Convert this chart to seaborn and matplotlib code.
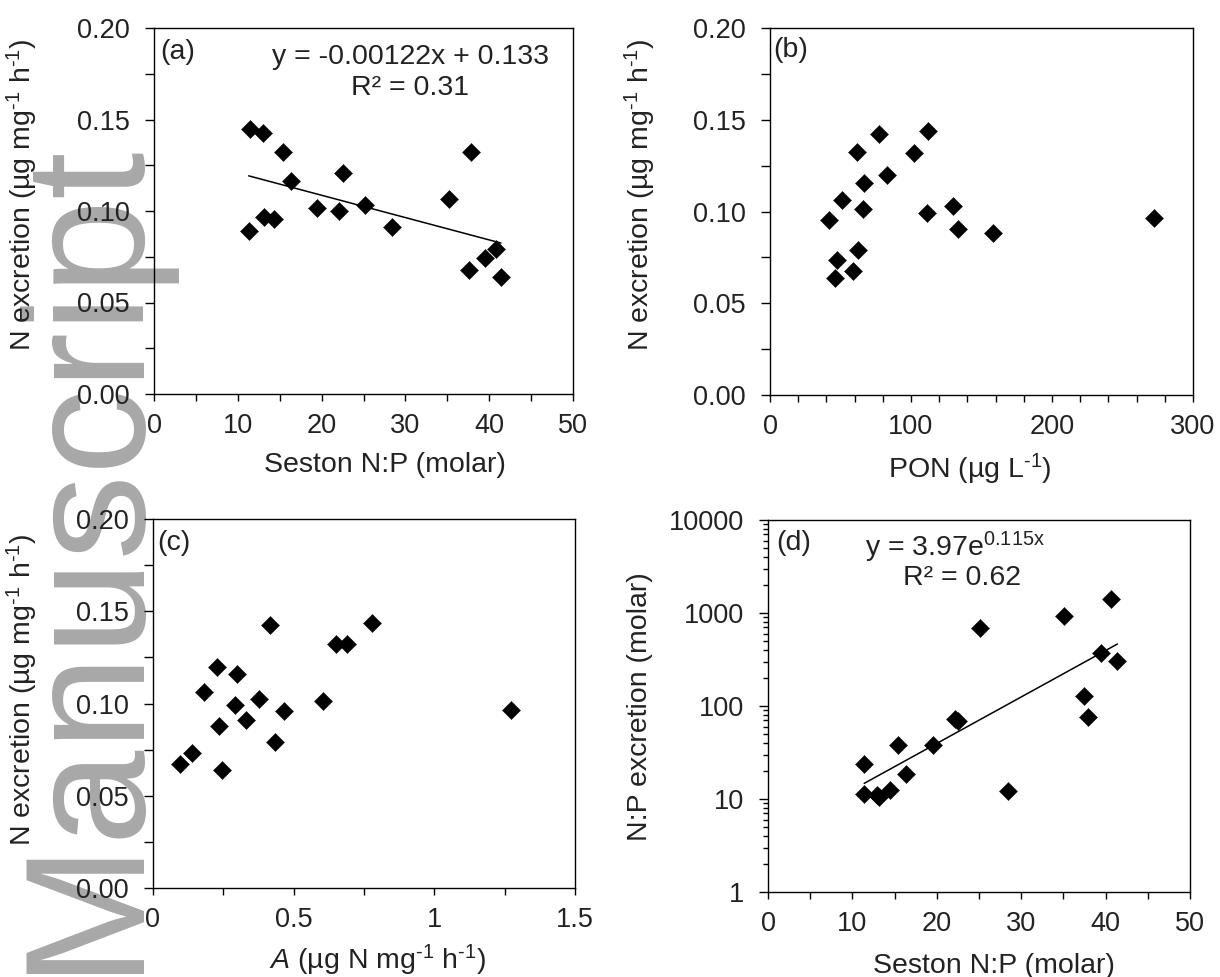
import numpy as np
import pandas as pd
import matplotlib
matplotlib.use("Agg")
import matplotlib.pyplot as plt
import matplotlib.ticker as mticker
import seaborn as sns

# ---------------- data ----------------
# (a) N excretion vs seston N:P
a_seston_np = [11.3, 11.4, 13.0, 13.1, 14.3, 15.4, 16.3, 19.4, 22.1, 22.5, 25.2, 28.4,
               35.2, 37.6, 37.8, 39.5, 40.8, 41.4]
a_n_excr = [0.0888, 0.1448, 0.1426, 0.0966, 0.0957, 0.1322, 0.1163, 0.1015, 0.1001,
            0.1205, 0.1034, 0.0912, 0.1068, 0.0678, 0.1325, 0.0742, 0.0795, 0.0642]
a_slope, a_intercept = -0.00122, 0.133

# (b) N excretion vs PON
b_pon = [41.8, 51.3, 61.9, 77.5, 66.7, 65.7, 83.2, 102.1, 112.3, 111.6, 129.6, 133.6,
         158.4, 272.6, 47.8, 62.6, 46.1, 59.1]
b_n_excr = [0.0955, 0.1064, 0.1323, 0.1423, 0.1155, 0.1015, 0.1200, 0.1320, 0.1441,
            0.0994, 0.1030, 0.0907, 0.0885, 0.0966, 0.0738, 0.0789, 0.0638, 0.0676]

# (c) N excretion vs A
c_a = [0.095, 0.140, 0.181, 0.229, 0.235, 0.246, 0.291, 0.300, 0.332, 0.376, 0.415,
       0.433, 0.465, 0.605, 0.650, 0.690, 0.779, 1.272]
c_n_excr = [0.0671, 0.0734, 0.1064, 0.1198, 0.0876, 0.0640, 0.0994, 0.1162, 0.0908,
            0.1026, 0.1423, 0.0789, 0.0957, 0.1015, 0.1320, 0.1320, 0.1438, 0.0966]

# (d) N:P excretion vs seston N:P
d_seston_np = [11.4, 11.4, 12.9, 13.1, 14.4, 15.4, 16.3, 19.5, 22.1, 22.5, 25.1, 28.4,
               35.1, 37.4, 37.9, 39.4, 40.6, 41.4]
d_np_excr = [24, 11.2, 11.0, 10.5, 12.4, 37.8, 18.4, 38.4, 73, 69, 690, 12.1, 935, 129,
             76, 372, 1400, 302]
d_coef, d_rate = 3.97, 0.115

y_ticks_n = [0.00, 0.05, 0.10, 0.15, 0.20]
d_y_ticks = [1, 10, 100, 1000, 10000]

# ---------------- style ----------------
sns.set_style("ticks")
FONT = "Liberation Sans"
plt.rcParams["font.family"] = [FONT, "DejaVu Sans"]
plt.rcParams["mathtext.fontset"] = "custom"
plt.rcParams["mathtext.rm"] = FONT
plt.rcParams["mathtext.it"] = FONT + ":italic"
plt.rcParams["mathtext.bf"] = FONT + ":bold"
plt.rcParams["axes.linewidth"] = 1.0
plt.rcParams["axes.edgecolor"] = "black"

TICK_FS = 19.5
LAB_FS = 20.5
TXT_COL = "#222222"

fig = plt.figure(figsize=(12.2, 9.77), dpi=100)
fig.patch.set_facecolor("white")

W, H = 1220, 977


def rect(l, r, t, b):
    return [l / W, 1 - b / H, (r - l) / W, (b - t) / H]


# watermark (beneath the axes content)
fig.text(131 / W, 1 - 973 / H, "Manuscript", rotation=90, rotation_mode="anchor",
         ha="left", va="baseline", fontsize=123, color="#a8a8a8", family=FONT, zorder=0)

ax_a = fig.add_axes(rect(154, 573, 28, 394))
ax_b = fig.add_axes(rect(770, 1193, 28, 395))
ax_c = fig.add_axes(rect(153, 575, 519, 888))
ax_d = fig.add_axes(rect(768, 1190, 520, 892))

for ax in (ax_a, ax_b, ax_c, ax_d):
    ax.set_facecolor("none")
    ax.set_zorder(1)
    for s in ax.spines.values():
        s.set_visible(True)
        s.set_color("black")
        s.set_linewidth(1.0)

MK = dict(marker="D", s=85, color="black", edgecolor="black", linewidth=0.3, legend=False)

# (a)
sns.scatterplot(x=a_seston_np, y=a_n_excr, ax=ax_a, zorder=3, **MK)
xa = np.linspace(min(a_seston_np), max(a_seston_np), 50)
sns.lineplot(x=xa, y=a_slope * xa + a_intercept, ax=ax_a, color="black", lw=1.1, zorder=2)

# (b)
sns.scatterplot(x=b_pon, y=b_n_excr, ax=ax_b, zorder=3, **MK)

# (c)
sns.scatterplot(x=c_a, y=c_n_excr, ax=ax_c, zorder=3, **MK)

# (d)
sns.scatterplot(x=d_seston_np, y=d_np_excr, ax=ax_d, zorder=3, **MK)
xd = np.linspace(min(d_seston_np), max(d_seston_np), 80)
sns.lineplot(x=xd, y=d_coef * np.exp(d_rate * xd), ax=ax_d, color="black", lw=1.1, zorder=2)
ax_d.set_yscale("log")

# ---------------- axes formatting ----------------
for ax in (ax_a, ax_b, ax_c):
    ax.set_ylim(0, 0.2)
    ax.yaxis.set_major_locator(mticker.FixedLocator(y_ticks_n))
    ax.yaxis.set_minor_locator(mticker.MultipleLocator(0.025))
    ax.yaxis.set_major_formatter(mticker.FormatStrFormatter("%.2f"))

ax_a.set_xlim(0, 50)
ax_a.xaxis.set_major_locator(mticker.MultipleLocator(10))
ax_a.xaxis.set_minor_locator(mticker.MultipleLocator(5))

ax_b.set_xlim(0, 300)
ax_b.xaxis.set_major_locator(mticker.MultipleLocator(100))
ax_b.xaxis.set_minor_locator(mticker.MultipleLocator(20))

ax_c.set_xlim(0, 1.5)
ax_c.xaxis.set_major_locator(mticker.MultipleLocator(0.5))
ax_c.xaxis.set_minor_locator(mticker.MultipleLocator(0.25))
ax_c.xaxis.set_major_formatter(mticker.FuncFormatter(lambda v, p: f"{v:g}"))

ax_d.set_xlim(0, 50)
ax_d.xaxis.set_major_locator(mticker.MultipleLocator(10))
ax_d.xaxis.set_minor_locator(mticker.MultipleLocator(5))
ax_d.set_ylim(1, 10000)
ax_d.yaxis.set_major_locator(mticker.FixedLocator(d_y_ticks))
ax_d.yaxis.set_minor_locator(mticker.LogLocator(base=10, subs=np.arange(2, 10)))
ax_d.yaxis.set_major_formatter(mticker.FuncFormatter(lambda v, p: f"{int(round(v))}"))
ax_d.yaxis.set_minor_formatter(mticker.NullFormatter())

for ax in (ax_a, ax_b, ax_c, ax_d):
    ax.tick_params(axis="both", which="both", direction="out", colors="black",
                   labelcolor=TXT_COL, labelsize=TICK_FS, width=1.0)
    ax.tick_params(axis="y", which="both", length=6.5, pad=11)
    ax.tick_params(axis="x", which="both", length=4.8, pad=9)
    ax.tick_params(top=False, right=False, which="both")
ax_d.tick_params(axis="y", which="minor", length=3.5)

SUP = "$^{\\text{-1}}$"
ylab_n = f"N excretion (µg mg{SUP} h{SUP})"
labels = [
    (ax_a, "Seston N:P (molar)", ylab_n, (0.551, -0.158), (-0.315, 0.544)),
    (ax_b, f"PON (µg L{SUP})", ylab_n, (0.473, -0.155), (-0.307, 0.545)),
    (ax_c, f"$\\mathit{{A}}$ (µg N mg{SUP} h{SUP})", ylab_n, (0.531, -0.149), (-0.31, 0.537)),
    (ax_d, "Seston N:P (molar)", "N:P excretion (molar)", (0.535, -0.164), (-0.303, 0.497)),
]
for ax, xl, yl, xpos, ypos in labels:
    ax.set_xlabel(xl, fontsize=LAB_FS, color=TXT_COL)
    ax.set_ylabel(yl, fontsize=LAB_FS, color=TXT_COL)
    ax.xaxis.set_label_coords(*xpos)
    ax.yaxis.set_label_coords(*ypos)
    ax.yaxis.label.set_verticalalignment("center")

# panel letters
for ax, lab, pos in [(ax_a, "(a)", (0.014, 0.934)), (ax_b, "(b)", (0.007, 0.94)),
                     (ax_c, "(c)", (0.01, 0.935)), (ax_d, "(d)", (0.019, 0.938))]:
    ax.text(pos[0], pos[1], lab, transform=ax.transAxes, ha="left", va="center",
            fontsize=LAB_FS, color=TXT_COL)

# equations
ax_a.text(0.613, 0.921, f"y = {a_slope:.5f}x + {a_intercept:.3f}", transform=ax_a.transAxes,
          ha="center", va="center", fontsize=LAB_FS, color=TXT_COL)
ax_a.text(0.611, 0.836, "R² = 0.31", transform=ax_a.transAxes,
          ha="center", va="center", fontsize=LAB_FS, color=TXT_COL)
ax_d.text(0.443, 0.927, f"y = {d_coef:.2f}e$^{{\\mathrm{{{d_rate:.3f}x}}}}$",
          transform=ax_d.transAxes, ha="center", va="center", fontsize=LAB_FS, color=TXT_COL)
ax_d.text(0.46, 0.844, "R² = 0.62", transform=ax_d.transAxes,
          ha="center", va="center", fontsize=LAB_FS, color=TXT_COL)

fig.savefig("out.png", dpi=100, facecolor="white")
